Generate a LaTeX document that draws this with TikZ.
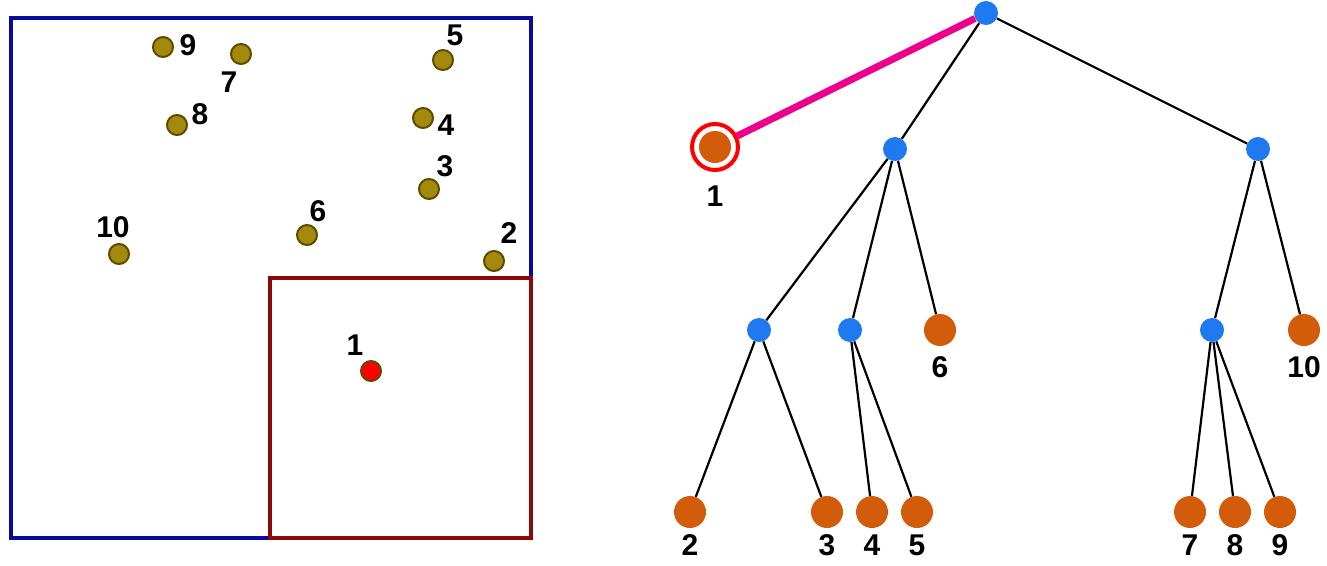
\documentclass[tikz,border=0pt]{standalone}
\usepackage{fontspec}
\setmainfont{Liberation Sans}
\usetikzlibrary{positioning}
\definecolor{olivept}{HTML}{A38A0C}
\definecolor{oliveedge}{HTML}{5E4B00}
\definecolor{leaforange}{HTML}{D35C0A}
\definecolor{innerblue}{HTML}{1F7AF2}
\definecolor{boxblue}{HTML}{0A0A9A}
\definecolor{boxred}{HTML}{8A0A0A}
\tikzset{
  pt/.style={circle,draw=oliveedge,fill=olivept,line width=2pt,inner sep=0pt,minimum size=20pt},
  leaf/.style={circle,fill=leaforange,inner sep=0pt,minimum size=32pt},
  inner/.style={circle,fill=innerblue,inner sep=0pt,minimum size=24pt},
  lbl/.style={font=\fontsize{30}{30}\selectfont\bfseries,inner sep=0pt},
  edge/.style={line width=2.2pt}
}
\begin{document}
\begin{tikzpicture}[x=1pt,y=-1pt]
  \useasboundingbox (0,0) rectangle (1327,565);
  % boxes
  \draw[boxblue,line width=3.5pt] (11,18) rectangle (531,538);
  \draw[boxred,line width=3.5pt] (270,278) rectangle (531,538);
  % points
  \foreach \n/\x/\y/\lx/\ly in {9/163/47/188/45, 7/241/54/229/82, 5/443/60/455/35,
      8/177/125/200/114, 4/423/118/446/125, 3/429/189/445/166, 10/119/254/113/227,
      6/307/235/318/211, 2/494/261/509/233} {
    \node[pt] (p\n) at (\x,\y) {};
    \node[lbl] (pl\n) at (\lx,\ly) {\n};
  }
  \node[pt,fill=red,draw=oliveedge] (p1) at (371,371) {};
  \node[lbl] (pl1) at (355,345) {1};
  % tree
  \node[inner] (root) at (986,13) {};
  \node[inner] (a) at (895,149) {};
  \node[inner] (b) at (1258,149) {};
  \node[inner] (c) at (759,330) {};
  \node[inner] (d) at (850,330) {};
  \node[inner] (e) at (1212,330) {};
  \node[leaf] (t1) at (715,147) {};
  \node[circle,draw=red,line width=4pt,minimum size=46pt] (ring) at (715,147) {};
  \draw[magenta,line width=7pt] (root) -- (ring);
  \foreach \n/\x/\y in {6/940/330, 10/1304/330, 2/690/512, 3/827/512, 4/872/512,
      5/917/512, 7/1190/512, 8/1235/512, 9/1280/512}
    \node[leaf] (t\n) at (\x,\y) {};
  \foreach \s/\t in {root/a, root/b, a/c, a/d, a/t6, b/e, b/t10, c/t2, c/t3,
      d/t4, d/t5, e/t7, e/t8, e/t9}
    \draw[edge] (\s) -- (\t);
  \node[lbl,below=14pt of ring] (tl1) {1};
  \foreach \n in {6,10}
    \node[lbl,below=10pt of t\n] (tl\n) {\n};
  \foreach \n in {2,3,4,5,7,8,9}
    \node[lbl,below=6pt of t\n] (tl\n) {\n};
\end{tikzpicture}
\end{document}
